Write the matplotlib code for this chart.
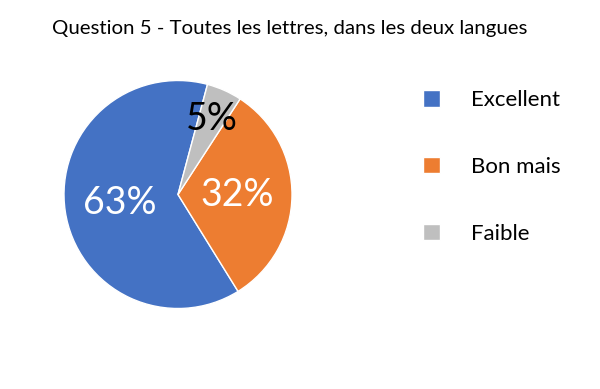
import matplotlib
matplotlib.use("Agg")
import matplotlib.pyplot as plt

plt.rcParams['font.family'] = ['Lato', 'DejaVu Sans']

categories = ["Excellent", "Bon mais", "Faible"]
values = [63, 32, 5]
colors = ["#4472C4", "#ED7D31", "#BFBFBF"]
label_colors = ["white", "white", "black"]
title = "Question 5 - Toutes les lettres, dans les deux langues"

fig = plt.figure(figsize=(6, 3.89), dpi=100)
ax = fig.add_axes([64 / 600, (194.5 - 114) / 389, 228 / 600, 228 / 389])

wedges, texts, autotexts = ax.pie(
    values, colors=colors, startangle=75, counterclock=True,
    autopct="%d%%", pctdistance=0.52,
    wedgeprops=dict(edgecolor="white", linewidth=1),
    textprops=dict(fontsize=27),
)
for t, c in zip(autotexts, label_colors):
    t.set_color(c)
# small slice label sits further out, near the rim
x, y = autotexts[2].get_position()
autotexts[2].set_position((x * 1.4, y * 1.4))

ax.set_xlim(-1, 1)
ax.set_ylim(-1, 1)
ax.set_aspect("equal")

fig.text(0.483, 0.928, title, ha="center", va="center", fontsize=14.7)

fig.legend(wedges, categories, loc="center left", bbox_to_anchor=(0.672, 0.571),
           frameon=False, fontsize=16, handlelength=0.75, handleheight=0.75,
           handletextpad=1.4, labelspacing=2.1)

fig.savefig("out.png", dpi=100)
